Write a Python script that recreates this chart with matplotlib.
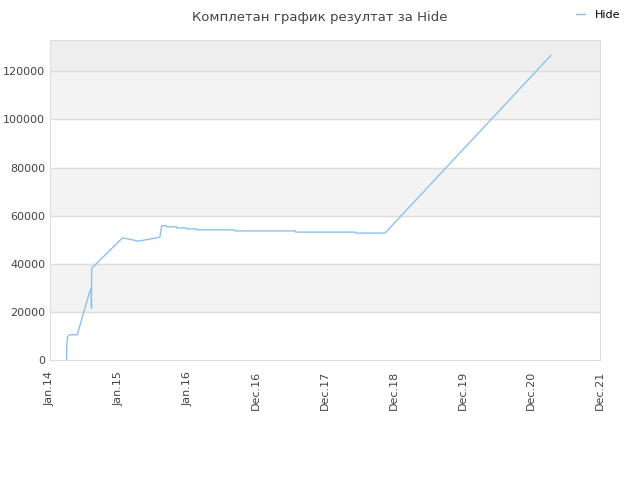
"""Complete result chart for Hide."""

import matplotlib
matplotlib.use("Agg")
import matplotlib.pyplot as plt
import matplotlib.dates as mdates
import numpy as np

TITLE = "Комплетан график резултат за Hide"
SERIES_NAME = "Hide"

dates = [
    "2014-03-29", "2014-03-30", "2014-04-03", "2014-04-16", "2014-05-24",
    "2014-07-26", "2014-08-06", "2014-08-07", "2014-08-08", "2015-01-18",
    "2015-04-10", "2015-07-24", "2015-08-02", "2015-08-11", "2015-09-05",
    "2015-09-06", "2015-10-28", "2015-10-29", "2015-12-19", "2015-12-20",
    "2016-02-09", "2016-02-10", "2016-08-29", "2016-08-30", "2017-07-14",
    "2017-07-15", "2018-05-27", "2018-05-28", "2018-10-28", "2021-03-18",
]
scores = [
    0, 5900, 9700, 10500, 10500,
    27700, 30000, 21500, 38100, 50800,
    49400, 50900, 51200, 55800, 55800,
    55350, 55350, 54900, 54900, 54500,
    54500, 54100, 54100, 53650, 53650,
    53150, 53150, 52750, 52750, 126600,
]

x_start, x_end = "2014-01-01", "2021-12-01"
tick_labels = ["Jan.14", "Jan.15", "Jan.16", "Dec.16", "Dec.17",
               "Dec.18", "Dec.19", "Dec.20", "Dec.21"]
y_ticks = [0, 20000, 40000, 60000, 80000, 100000, 120000]
y_max = 133000

fig = plt.figure(figsize=(6.4, 4.8), dpi=100)
ax = fig.add_axes([50 / 640, 120 / 480, 550 / 640, 320 / 480])

# alternating background bands
band_edges = y_ticks + [y_max]
for i in range(len(band_edges) - 1):
    if i % 2 == 1:
        ax.axhspan(band_edges[i], band_edges[i + 1], color="#f3f3f3", zorder=0)
ax.axhspan(y_ticks[-1], y_max, color="#eeeeee", zorder=0)
for y in y_ticks[1:]:
    ax.axhline(y, color="#dddddd", linewidth=1, zorder=1)

x = mdates.datestr2num(dates)
ax.plot(x, scores, color="#8ec1f0", linewidth=1, label=SERIES_NAME, zorder=3)

x0, x1 = mdates.datestr2num([x_start, x_end])
ax.set_xlim(x0, x1)
ax.set_ylim(0, y_max)
ax.set_xticks(np.linspace(x0, x1, len(tick_labels)))
ax.set_xticklabels(tick_labels, rotation=90)
ax.set_yticks(y_ticks)
ax.set_yticklabels([str(v) for v in y_ticks])
ax.tick_params(length=0, labelsize=8, labelcolor="#444444")
ax.tick_params(axis="x", pad=8)

for spine in ax.spines.values():
    spine.set_color("#dddddd")

fig.text(0.5, 0.978, TITLE, ha="center", va="top", fontsize=9.5, color="#444444")
fig.legend(loc="upper right", bbox_to_anchor=(0.985, 1.0), frameon=False,
           fontsize=8, handlelength=0.8, handletextpad=0.9)

fig.savefig("out.png", dpi=100)
